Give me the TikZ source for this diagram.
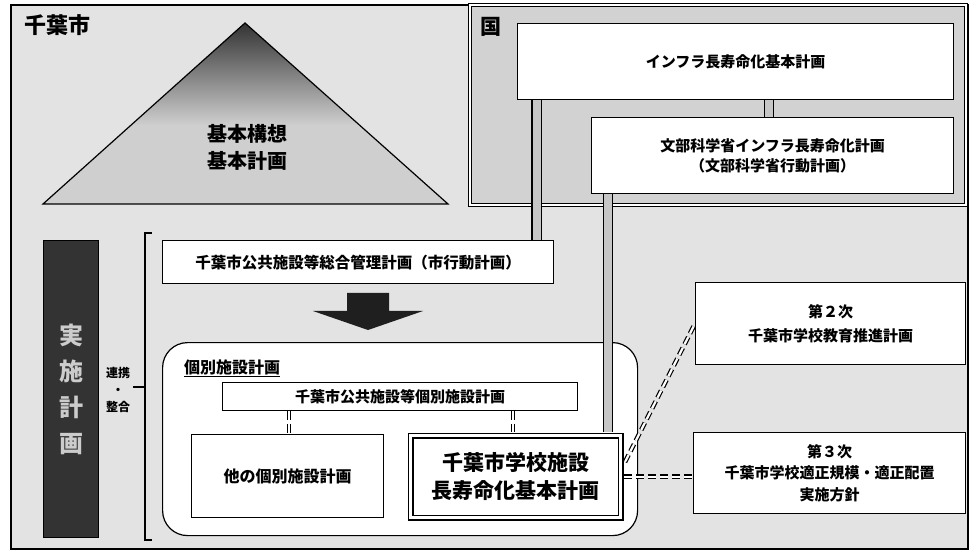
\documentclass[tikz,border=0pt]{standalone}
\usepackage{fontspec}
\setmainfont{Noto Sans CJK JP}
\usetikzlibrary{calc}
\newcommand\myfs[2]{\fontsize{#1}{#2}\selectfont\bfseries}
\begin{document}
\begin{tikzpicture}[x=1pt,y=-1pt,
  box/.style={draw, line width=1.3pt, fill=white, anchor=north west, inner sep=0pt, align=center},
  dbl/.style={draw=black, line width=1.1pt, double=gray!45, double distance=8pt},
  dsh/.style={draw=black, line width=1.2pt, double=white, double distance=2.2pt, dash pattern=on 8pt off 4pt},
  eqline/.style={draw=black, line width=0.9pt, double=white, double distance=2.4pt, dash pattern=on 9pt off 4pt},
  frame/.style={line width=1.2pt},
]
\useasboundingbox (0,0) rectangle (969,553);
\fill[white] (0,0) rectangle (969,553);
% Chiba frame
\filldraw[frame, fill=gray!22] (11,5) rectangle (968,549);
\node[font=\myfs{22}{26}] (lchiba) at (57,25) {千葉市};
% pyramid
\begin{scope}
\clip (245,23) -- (448,204) -- (43,204) -- cycle;
\fill[gray!38] (43,23) rectangle (448,204);
\shade[top color=black!80, bottom color=gray!38] (43,23) rectangle (448,125);
\end{scope}
\draw[frame] (245,23) -- (448,204) -- (43,204) -- cycle;
\node[font=\myfs{20}{27}, align=center] (tritext) at (247,147) {基本構想\\基本計画};
% Kuni region
\filldraw[fill=gray!35, double, double distance=2pt, line width=0.8pt] (470,5) rectangle (966,205);
\node[font=\myfs{21}{24}] (lkuni) at (491,27) {国};
% left vertical box
\node[draw, line width=1.2pt, fill=black!80, minimum width=55pt, minimum height=297pt, anchor=north west, inner sep=0pt] (jisshi) at (43,240) {};
\node[font=\myfs{24}{36}, text=gray!40, align=center] (jisshitext) at (jisshi.center) {実\\施\\計\\画};
\node[font=\myfs{12}{17}, align=center] (renkei) at (118,390) {連携\\・\\整合};
% bracket
\draw[frame] (152,233) -- (145,233) -- (145,540) -- (152,540);
\draw[frame] (145,387) -- (133,387);
% national boxes
\node[box, minimum width=436pt, minimum height=76pt, font=\myfs{15}{20}] (inf) at (517,23) {インフラ長寿命化基本計画};
\node[box, minimum width=362pt, minimum height=76pt, font=\myfs{15}{20}] (mext) at (591,117) {文部科学省インフラ長寿命化計画\\（文部科学省行動計画）};
% sogo box
\node[box, minimum width=391pt, minimum height=43pt, font=\myfs{15.5}{20}] (sogo) at (162,240) {千葉市公共施設等総合管理計画（市行動計画）};
\draw[dbl] (536.5,0 |- inf.south) -- (536.5,0 |- sogo.north);
\draw[dbl] (769,0 |- inf.south) -- (769,0 |- mext.north);
% block arrow
\fill[black!88] (347,293) -- (389,293) -- (389,311) -- (423,311) -- (368,330) -- (313,311) -- (347,311) -- cycle;
% area of individual plans
\node[draw, line width=1.2pt, fill=white, rounded corners=25pt, anchor=north west, minimum width=475pt, minimum height=193pt, inner sep=0pt] (area) at (162,342) {};
\node[font=\myfs{16}{20}] (arealbl) at (232,368) {\underline{個別施設計画}};
\node[box, minimum width=355pt, minimum height=28pt, font=\myfs{15}{19}] (kob) at (222,382) {千葉市公共施設等個別施設計画};
\node[box, minimum width=192pt, minimum height=83pt, font=\myfs{16}{20}] (other) at (191,434) {他の個別施設計画};
\draw[dbl] (608,0 |- mext.south) -- (608,432);
\node[box, double, double distance=3.5pt, line width=1.3pt, minimum width=210pt, minimum height=82pt, font=\myfs{21}{28}] (school) at (410,435) {千葉市学校施設\\長寿命化基本計画};
\draw[eqline] (289,0 |- kob.south) -- (289,0 |- other.north);
\draw[eqline] (513,0 |- kob.south) -- (513,432);
% education plans
\node[box, minimum width=270pt, minimum height=82pt, font=\myfs{15}{24}] (ed2) at (695,282) {第２次\\千葉市学校教育推進計画};
\node[box, minimum width=272pt, minimum height=81pt, font=\myfs{15}{21.5}] (ed3) at (693,432) {第３次\\千葉市学校適正規模・適正配置\\実施方針};
\coordinate (dg) at (625,462);
\draw[dsh] (dg) -- (ed2.west);
\draw[dsh] ($(school.east)+(3,0)$) -- (ed3.west |- school.east);
\end{tikzpicture}
\end{document}
